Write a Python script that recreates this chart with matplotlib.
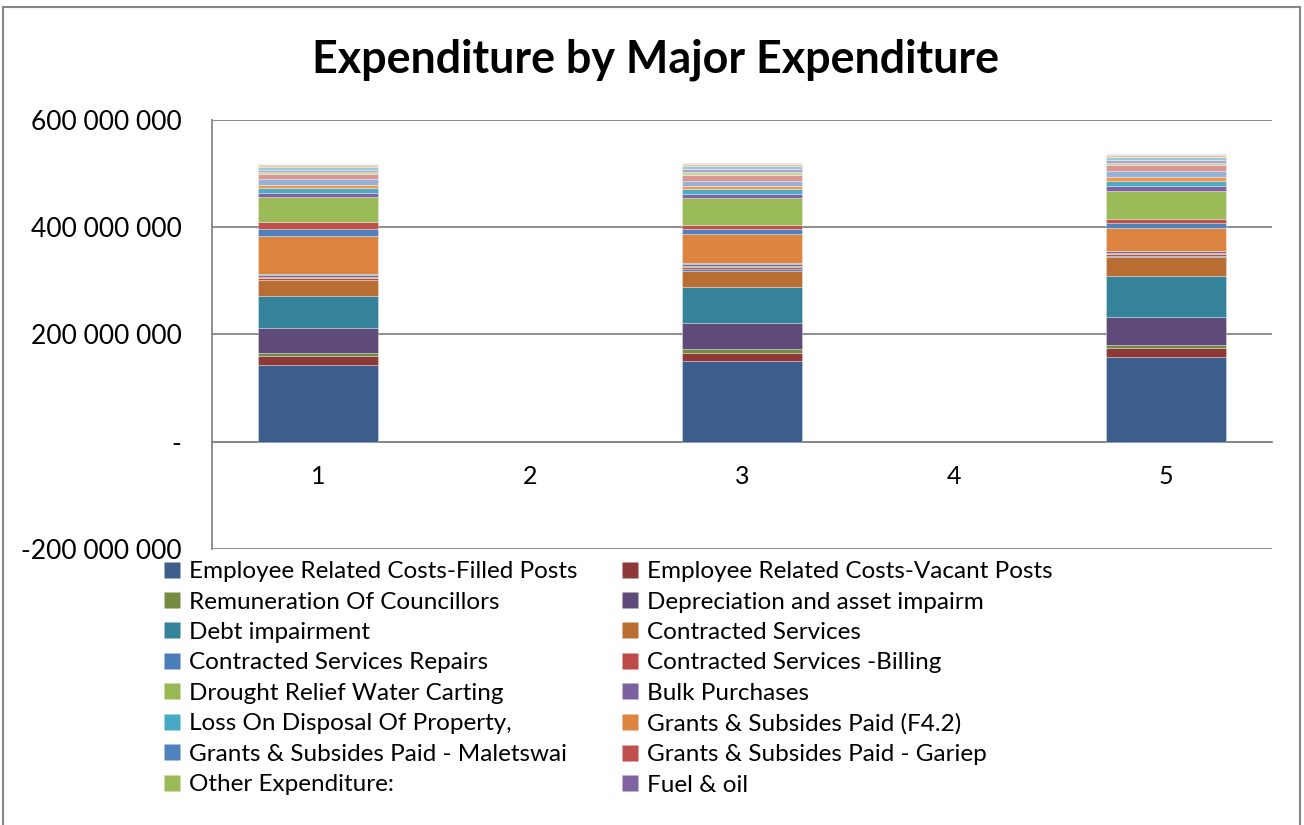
import matplotlib.pyplot as plt
from matplotlib.patches import Rectangle
from matplotlib.lines import Line2D
from matplotlib.ticker import FuncFormatter

plt.rcParams['font.family'] = ['Lato', 'DejaVu Sans']

categories = ['1', '2', '3', '4', '5']
filled_cats = ['1', '3', '5']

series_names = [
    'Employee Related Costs-Filled Posts', 'Employee Related Costs-Vacant Posts',
    'Remuneration Of Councillors', 'Depreciation and asset impairm',
    'Debt impairment', 'Contracted Services',
    'Contracted Services Repairs', 'Contracted Services -Billing',
    'Drought Relief Water Carting', 'Bulk Purchases',
    'Loss On Disposal Of Property,', 'Grants & Subsides Paid (F4.2)',
    'Grants & Subsides Paid - Maletswai', 'Grants & Subsides Paid - Gariep',
    'Other Expenditure:', 'Fuel & oil',
]

# values in millions, bottom to top of each stack (last 9 series fall outside the visible legend)
cat1 = [144, 15, 6, 48, 58, 30, 1.5, 3.5, 1.5, 4, 0.5, 71, 14, 13, 47, 7.5,
        9, 6, 10, 10, 4, 3, 5.5, 3.5, 2.5]
cat3 = [150.4, 15.4, 7, 48.4, 67, 31, 3, 4, 1.5, 4, 1.5, 54, 9.3, 8, 50, 7.5,
        10, 5.6, 9.3, 10.7, 6, 5, 5, 3.7, 2]
cat5 = [158.4, 16.2, 6.1, 51.6, 77.6, 34.2, 2, 4, 1.5, 3.5, 0.8, 43.4, 8.1, 8.1, 52.8, 8.1,
        9.9, 6.9, 11.2, 11.7, 4.3, 5, 5, 4.3, 2]

colors = ['#3B5E8C', '#8E3937', '#748B41', '#5F4B7A', '#35839A', '#B86D33',
          '#4A7EBB', '#BE4B48', '#98B954', '#7D60A0', '#46AAC5', '#DD8540',
          '#4F81BD', '#C0504D', '#9BBB59', '#8064A2', '#4BACC6', '#F79646',
          '#95B3D7', '#D99694', '#C3D69B', '#B3A2C7', '#93CDDD', '#FAC090', '#B9CDE5']

fig = plt.figure(figsize=(13.04, 8.25), dpi=100)
ax = fig.add_axes([212 / 1304, 1 - 549 / 825, 1060 / 1304, 429 / 825])

grey = '#868686'
xs = [categories.index(c) for c in filled_cats]
stacks = [cat1, cat3, cat5]
for i in range(len(colors)):
    heights = [s[i] * 1e6 for s in stacks]
    bottoms = [sum(s[:i]) * 1e6 for s in stacks]
    ax.bar(xs, heights, bottom=bottoms, width=0.57, color=colors[i],
           edgecolor=(1, 1, 1, 0.35), linewidth=0.6, zorder=3)

ax.set_xlim(-0.5, 4.5)
ax.set_ylim(-200e6, 600e6)
ax.set_yticks([-200e6, 0, 200e6, 400e6, 600e6])
ax.yaxis.set_major_formatter(FuncFormatter(
    lambda v, p: '-' if v == 0 else f'{v:,.0f}'.replace(',', ' ')))
ax.set_xticks(range(len(categories)))
ax.set_xticklabels(categories)
ax.grid(axis='y', color=grey, linewidth=1.3, zorder=0)
ax.set_axisbelow(True)
for s in ['top', 'right']:
    ax.spines[s].set_visible(False)
ax.spines['bottom'].set_position(('data', 0))
ax.spines['bottom'].set_color(grey)
ax.spines['bottom'].set_linewidth(1.3)
ax.spines['left'].set_color(grey)
ax.spines['left'].set_linewidth(1.3)
ax.tick_params(axis='y', length=0, pad=22, labelsize=19)
ax.tick_params(axis='x', length=0, pad=17, labelsize=18)

fig.text(655 / 1304, 1 - 60 / 825, 'Expenditure by Major Expenditure',
         ha='center', va='center', fontsize=32.3, fontweight='bold')

# legend: row-major in two columns, split into two legends
def make_legend(idx, x_px):
    hs = [Line2D([], [], marker='s', linestyle='none', markersize=11,
                 markerfacecolor=colors[i], markeredgecolor='none') for i in idx]
    fig.legend(hs, [series_names[i] for i in idx], loc='upper left',
               bbox_to_anchor=(x_px / 1304, 1 - 561 / 825), frameon=False,
               fontsize=17.5, handlelength=0.75, handletextpad=0.3,
               labelspacing=0.39, borderpad=0, borderaxespad=0)

make_legend(range(0, 16, 2), 163)
make_legend(range(1, 16, 2), 621)

fig.add_artist(Rectangle((3 / 1304, -0.05), 1297 / 1304, 1.05 - 7 / 825,
                         transform=fig.transFigure, fill=False,
                         edgecolor=grey, linewidth=1.5))

fig.savefig('out.png', dpi=100)
